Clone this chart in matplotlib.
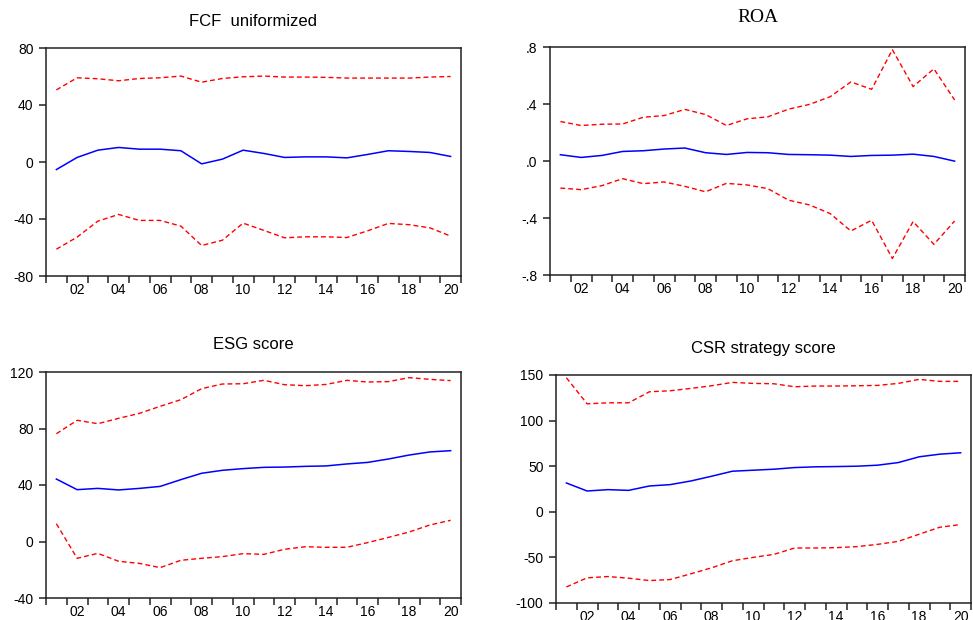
import matplotlib
matplotlib.use("Agg")
import matplotlib.pyplot as plt
from matplotlib.ticker import FixedLocator

plt.rcParams['font.family'] = ['Liberation Sans', 'DejaVu Sans']

years = list(range(2001, 2021))
year_labels = ["02", "04", "06", "08", "10", "12", "14", "16", "18", "20"]

# FCF uniformized
fcf_mean = [-5.3, 3.2, 8.3, 10.2, 9.0, 9.0, 7.9, -1.3, 2.0, 8.3,
            6.0, 3.2, 3.6, 3.6, 2.9, 5.3, 7.9, 7.4, 6.7, 3.9]
fcf_upper = [50.6, 59.1, 58.4, 57.0, 58.6, 59.1, 60.3, 56.0, 58.6, 59.8,
             60.3, 59.6, 59.6, 59.4, 58.9, 58.9, 58.9, 58.9, 59.6, 60.0]
fcf_lower = [-61.2, -52.7, -41.5, -36.8, -41.0, -41.0, -45.0, -58.6, -54.9, -42.9,
             -48.0, -53.2, -52.5, -52.5, -53.0, -48.3, -43.1, -44.0, -46.2, -52.0]

# ROA
roa_mean = [0.044, 0.025, 0.039, 0.067, 0.072, 0.084, 0.091, 0.058, 0.046, 0.060,
            0.058, 0.046, 0.044, 0.041, 0.032, 0.039, 0.041, 0.048, 0.032, -0.001]
roa_upper = [0.277, 0.249, 0.258, 0.260, 0.307, 0.319, 0.362, 0.326, 0.249, 0.296,
             0.310, 0.364, 0.397, 0.451, 0.555, 0.503, 0.781, 0.522, 0.647, 0.428]
roa_lower = [-0.190, -0.201, -0.173, -0.124, -0.159, -0.147, -0.178, -0.216, -0.157, -0.168,
             -0.194, -0.275, -0.308, -0.369, -0.491, -0.416, -0.684, -0.425, -0.585, -0.421]

# ESG score
esg_mean = [44.2, 36.7, 37.6, 36.5, 37.6, 39.0, 43.8, 48.3, 50.4, 51.6,
            52.5, 52.7, 53.2, 53.5, 54.9, 56.0, 58.4, 61.2, 63.4, 64.3]
esg_upper = [76.3, 85.8, 83.4, 87.2, 90.7, 95.7, 100.4, 108.2, 111.5, 111.7,
             114.1, 111.0, 110.3, 111.2, 114.1, 112.9, 113.2, 116.0, 114.8, 113.9]
esg_lower = [12.6, -11.9, -8.4, -14.0, -15.5, -18.5, -13.3, -11.9, -10.7, -8.6,
             -9.1, -5.5, -3.7, -4.1, -4.1, -0.8, 2.9, 6.7, 11.7, 15.0]

# CSR strategy score
csr_mean = [31.6, 22.8, 24.3, 23.5, 28.3, 29.8, 33.8, 39.0, 44.5, 45.6,
            46.7, 48.5, 49.3, 49.6, 50.0, 51.1, 54.0, 60.3, 63.2, 64.7]
csr_upper = [147.0, 118.4, 119.5, 119.5, 131.6, 132.7, 135.3, 138.2, 141.9, 140.8,
             140.4, 137.1, 137.9, 137.9, 138.2, 138.6, 140.8, 145.2, 143.0, 143.0]
csr_lower = [-82.4, -72.4, -71.0, -72.8, -75.4, -74.3, -68.0, -61.4, -53.7, -50.0,
             -46.7, -39.7, -39.7, -39.3, -38.2, -35.7, -32.4, -24.6, -16.9, -14.0]

panels = [
    dict(title="FCF  uniformized", mean=fcf_mean, up=fcf_upper, lo=fcf_lower,
         yticks=[-80, -40, 0, 40, 80], ylabels=["-80", "-40", "0", "40", "80"],
         rect=[46, 48, 461, 276], title_y=21, serif=False),
    dict(title="ROA", mean=roa_mean, up=roa_upper, lo=roa_lower,
         yticks=[-0.8, -0.4, 0.0, 0.4, 0.8], ylabels=["-.8", "-.4", ".0", ".4", ".8"],
         rect=[550, 47, 965, 275], title_y=18, serif=True),
    dict(title="ESG score", mean=esg_mean, up=esg_upper, lo=esg_lower,
         yticks=[-40, 0, 40, 80, 120], ylabels=["-40", "0", "40", "80", "120"],
         rect=[46, 372, 461, 598], title_y=345, serif=False),
    dict(title="CSR strategy score", mean=csr_mean, up=csr_upper, lo=csr_lower,
         yticks=[-100, -50, 0, 50, 100, 150], ylabels=["-100", "-50", "0", "50", "100", "150"],
         rect=[556, 375, 971, 603], title_y=349, serif=False),
]

W, H = 973, 620
fig = plt.figure(figsize=(W / 100, H / 100), dpi=100)

xs = list(range(1, len(years) + 1))
label_pos = [i for i, y in zip(xs, years) if y % 2 == 0]

for p in panels:
    l, t, r, b = p["rect"]
    ax = fig.add_axes([l / W, 1 - b / H, (r - l) / W, (b - t) / H])
    ax.plot(xs, p["up"], color="#ff0000", lw=1.0, ls=(0, (3.5, 2.2)))
    ax.plot(xs, p["lo"], color="#ff0000", lw=1.0, ls=(0, (3.5, 2.2)))
    ax.plot(xs, p["mean"], color="#0000ff", lw=1.1)
    ax.set_xlim(0.5, len(years) + 0.5)
    ax.set_ylim(p["yticks"][0], p["yticks"][-1])
    ax.set_yticks(p["yticks"])
    ax.set_yticklabels(p["ylabels"])
    ax.set_xticks(label_pos)
    ax.set_xticklabels(year_labels)
    ax.xaxis.set_minor_locator(FixedLocator([i + 0.5 for i in range(0, len(years) + 1)]))
    ax.tick_params(axis="x", which="major", length=0, pad=5, labelsize=10)
    ax.tick_params(axis="x", which="minor", length=5, width=1.1, direction="out", color="#222222")
    ax.tick_params(axis="y", which="major", length=5, width=1.1, direction="out", pad=4,
                   labelsize=10, color="#222222")
    for s in ax.spines.values():
        s.set_linewidth(1.1)
        s.set_color("#222222")
    fam = ['Liberation Serif', 'DejaVu Serif'] if p["serif"] else ['Liberation Sans', 'DejaVu Sans']
    fs = 14 if p["serif"] else 12
    fig.text(((l + r) / 2) / W, 1 - p["title_y"] / H, p["title"], ha="center", va="center",
             fontsize=fs, family=fam)

fig.savefig("out.png", dpi=100)
